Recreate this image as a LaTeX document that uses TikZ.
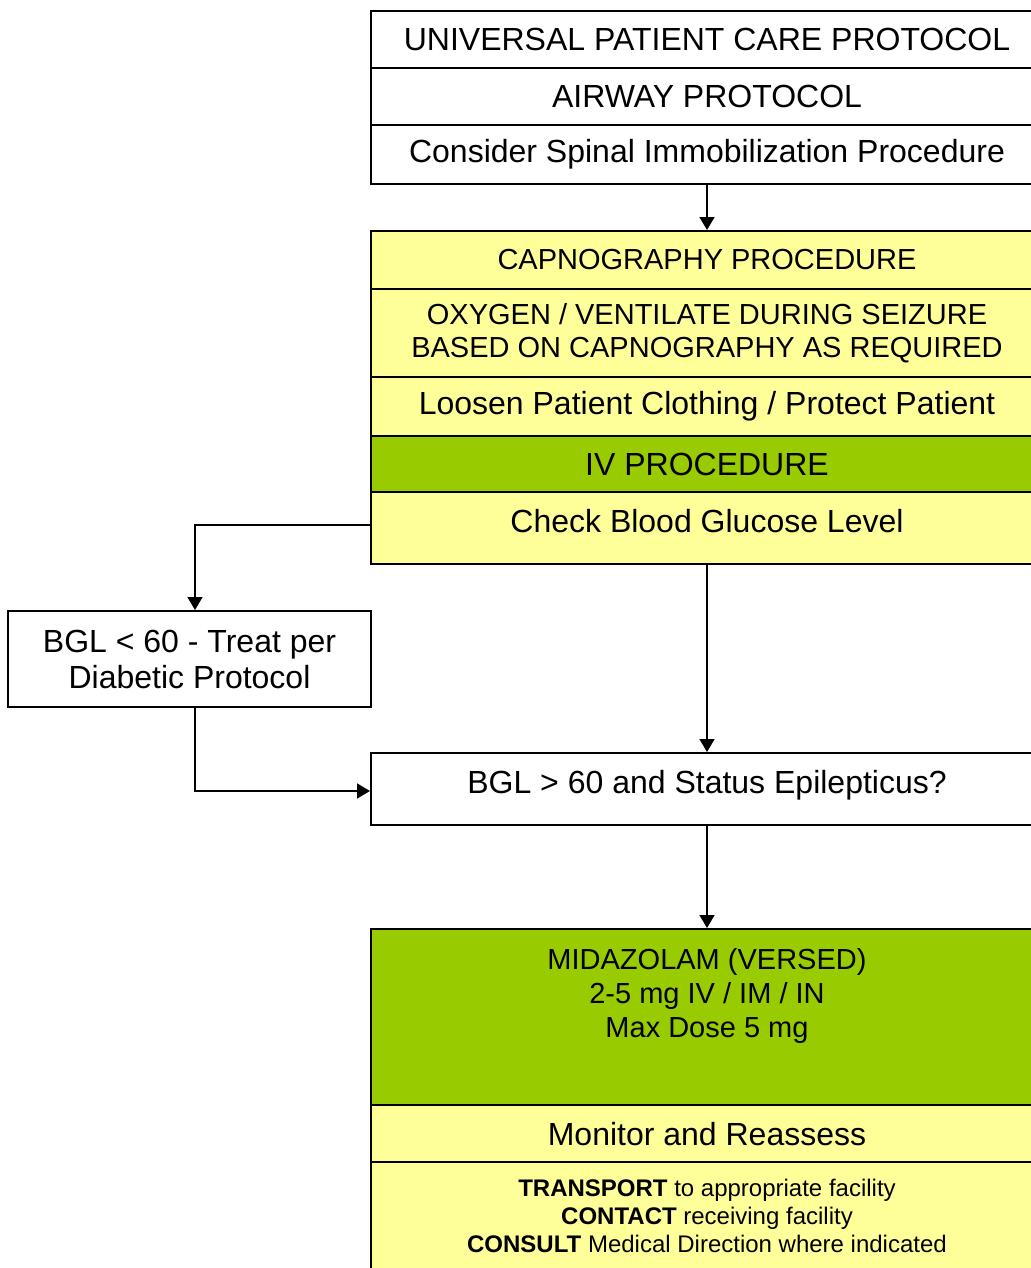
\documentclass[tikz,border=0pt]{standalone}
\usepackage{fontspec}
\setmainfont{Liberation Sans}
\usetikzlibrary{arrows.meta}
\definecolor{emsyellow}{HTML}{FFFF99}
\definecolor{emsgreen}{HTML}{99CC00}
\tikzset{
  rowbox/.style={draw, line width=1pt, fill=white, minimum width=336pt, inner sep=0pt,
    align=center, font=\fontsize{16}{18}\selectfont},
  capsrow/.style={font=\fontsize{14.5}{16.5}\selectfont},
}

\begin{document}
\begin{tikzpicture}[x=0.5pt, y=-0.5pt, >={Triangle[width=7.5pt,length=6.5pt]}, line width=0.8pt]
    \useasboundingbox (0,0) rectangle (1030,1268);
    % top block
    \node[rowbox, minimum height=28.5pt] (universal) at (707,39.5) {UNIVERSAL PATIENT CARE PROTOCOL};
    \node[rowbox, minimum height=28.5pt] (airway) at (707,96.5) {AIRWAY PROTOCOL};
    \node[rowbox, minimum height=29.5pt] (spinal) at (707,154.5) {Consider Spinal Immobilization Procedure};
    % yellow block
    \node[rowbox, capsrow, fill=emsyellow, minimum height=29pt] (capno) at (707,260) {CAPNOGRAPHY PROCEDURE};
    \node[rowbox, capsrow, fill=emsyellow, minimum height=44pt] (oxygen) at (707,333) {OXYGEN / VENTILATE DURING SEIZURE\\BASED ON CAPNOGRAPHY AS REQUIRED};
    \node[rowbox, fill=emsyellow, minimum height=29.5pt] (loosen) at (707,406.5) {Loosen Patient Clothing / Protect Patient};
    \node[rowbox, fill=emsgreen, minimum height=28pt] (iv) at (707,464) {IV PROCEDURE};
    \node[rowbox, fill=emsyellow, minimum height=36pt, text depth=7pt] (glucose) at (707,528) {Check Blood Glucose Level};
    % branches
    \node[rowbox, minimum width=181.5pt, minimum height=48pt] (diabetic) at (189.5,659) {BGL < 60 - Treat per\\Diabetic Protocol};
    \node[rowbox, minimum height=36pt, text depth=7.4pt] (status) at (707,789) {BGL > 60 and Status Epilepticus?};
    % treatment
    \node[rowbox, capsrow, fill=emsgreen, minimum height=88pt] (midazolam) at (707,1017)
        {\parbox[c][69pt][t]{320pt}{\centering\fontsize{14.5}{17}\selectfont MIDAZOLAM (VERSED)\\2-5 mg IV / IM / IN\\Max Dose 5 mg}};
    \node[rowbox, fill=emsyellow, minimum height=29pt] (monitor) at (707,1134) {Monitor and Reassess};
    \node[rowbox, fill=emsyellow, minimum height=54.5pt, font=\fontsize{12}{14}\selectfont] (transport) at (707,1216)
        {\textbf{TRANSPORT} to appropriate facility\\\textbf{CONTACT} receiving facility\\\textbf{CONSULT} Medical Direction where indicated};

    \draw[->] (spinal) -- (capno);
    \draw[->] ([yshift=1.5pt]glucose.west) -| ([xshift=2.75pt]diabetic.north);
    \draw[->] (glucose) -- (status);
    \draw[->] ([xshift=2.75pt]diabetic.south) |- ([yshift=-1pt]status.west);
    \draw[->] (status) -- (midazolam);
\end{tikzpicture}
\end{document}
